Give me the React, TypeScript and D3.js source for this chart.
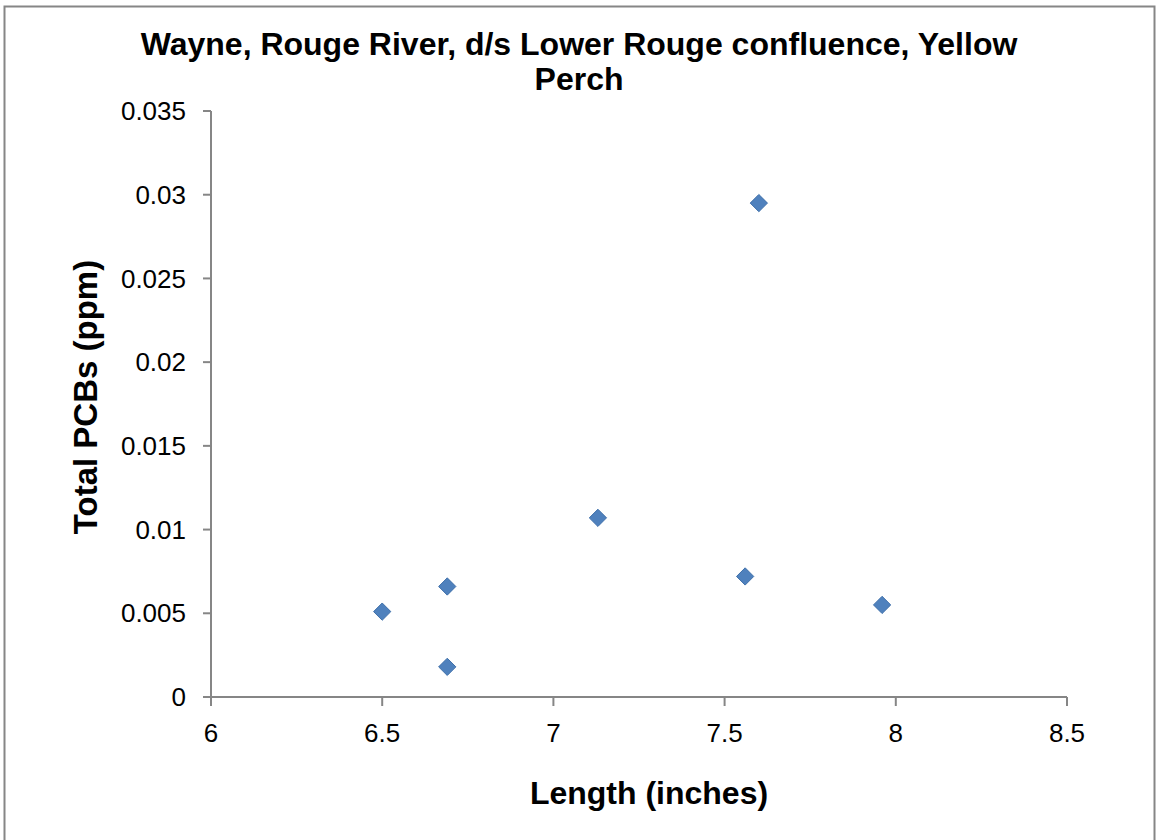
import React from "react";
import * as d3 from "d3";

const lengths = [6.5, 6.69, 6.69, 7.13, 7.56, 7.6, 7.96];
const pcbs = [0.0051, 0.0066, 0.0018, 0.0107, 0.0072, 0.0295, 0.0055];
const xTicks = [6, 6.5, 7, 7.5, 8, 8.5];
const yTicks = [0, 0.005, 0.01, 0.015, 0.02, 0.025, 0.03, 0.035];
const titleLines = ["Wayne, Rouge River, d/s Lower Rouge confluence, Yellow", "Perch"];

export default function App() {
  const W = 1156, H = 840;
  const x = d3.scaleLinear().domain([6, 8.5]).range([211, 1067]);
  const y = d3.scaleLinear().domain([0, 0.035]).range([697, 111]);
  const font = "Arial, 'Liberation Sans', sans-serif";
  const axisColor = "#868686";
  const diamond = d3.symbol().type(d3.symbolDiamond2).size(190);
  return (
    <svg width={W} height={H} style={{ position: "absolute", left: 0, top: 0, background: "#fff" }} fontFamily={font}>
      <rect x={4.5} y={6.5} width={1150} height={850} fill="#fff" stroke={axisColor} strokeWidth={2} />
      {titleLines.map((t, i) => (
        <text key={i} x={579} y={55 + i * 35} textAnchor="middle" fontSize={32} fontWeight="bold" fill="#000">{t}</text>
      ))}
      <line x1={x(6)} x2={x(6)} y1={y(0.035)} y2={y(0)} stroke={axisColor} strokeWidth={2} />
      <line x1={x(6)} x2={x(8.5)} y1={y(0)} y2={y(0)} stroke={axisColor} strokeWidth={2} />
      {yTicks.map((t) => (
        <g key={"y" + t}>
          <line x1={x(6) - 8} x2={x(6)} y1={y(t)} y2={y(t)} stroke={axisColor} strokeWidth={2} />
          <text x={186} y={y(t)} dy="0.35em" textAnchor="end" fontSize={26} fill="#000">{String(t)}</text>
        </g>
      ))}
      {xTicks.map((t) => (
        <g key={"x" + t}>
          <line x1={x(t)} x2={x(t)} y1={y(0)} y2={y(0) + 9} stroke={axisColor} strokeWidth={2} />
          <text x={x(t)} y={742} textAnchor="middle" fontSize={26} fill="#000">{String(t)}</text>
        </g>
      ))}
      <text x={649} y={804} textAnchor="middle" fontSize={32} fontWeight="bold" fill="#000">Length (inches)</text>
      <text transform={`translate(97,397) rotate(-90)`} textAnchor="middle" fontSize={33} fontWeight="bold" fill="#000">Total PCBs (ppm)</text>
      {lengths.map((v, i) => (
        <path key={i} d={diamond() as string} transform={`translate(${x(v)},${y(pcbs[i])})`} fill="#4F81BD" stroke="#3F70AA" strokeWidth={1} />
      ))}
    </svg>
  );
}
